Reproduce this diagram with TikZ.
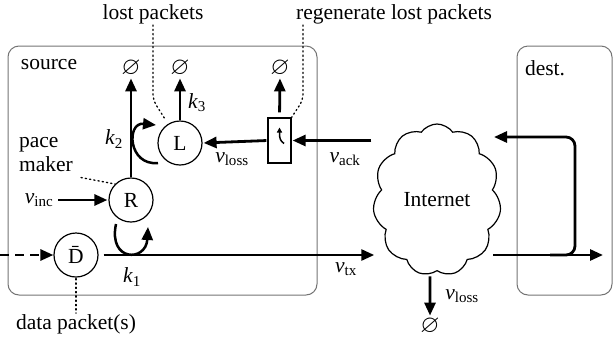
\documentclass[tikz,border=0pt]{standalone}
\usepackage{amssymb}
\usepackage{fontspec}
\setmainfont{Liberation Serif}
\usetikzlibrary{shapes.symbols,arrows.meta}
\newcommand\iv[2]{\textit{#1}\textsubscript{#2}}
\newcommand\nullset{\scalebox{1.15}{$\varnothing$}}
\begin{document}
\begin{tikzpicture}[x=1pt,y=-1pt, font=\fontsize{21.5}{24}\selectfont,
 circ/.style={circle,draw,line width=1.2pt,minimum size=44pt,inner sep=0pt},
 flow/.style={line width=2.8pt,-{Triangle[length=13pt,width=11pt]}},
 plain/.style={line width=2.8pt},
 dots/.style={line width=1.3pt,dash pattern=on 1.3pt off 3pt,line cap=round},
 frame/.style={draw=black!55,line width=1pt,rounded corners=11pt},
 lbl/.style={inner sep=1pt},
 sink/.style={inner sep=1pt}]
\useasboundingbox (0,0) rectangle (613,341);
% frames
\draw[frame] (8,46) rectangle (317,295);
\draw[frame] (517,46) rectangle (612,295);
\node[lbl] (src) at (49,65) {source};
\node[lbl] (dst) at (545,68) {dest.};
% nodes
\node[circ] (D) at (76,255) {\={D}};
\node[circ] (R) at (131,200) {R};
\node[circ] (L) at (180,143) {L};
\node[draw,line width=1.2pt,minimum width=23pt,minimum height=45pt,inner sep=0pt] (G) at (279.5,140.5) {};
\node[cloud,draw,line width=1.2pt,cloud puffs=11,cloud puff arc=110,cloud ignores aspect,minimum width=128pt,minimum height=152pt,inner sep=0pt] (I) at (437,200) {Internet};
% sinks
\node[sink] (E1) at (131,68) {\nullset};
\node[sink] (E2) at (180,68) {\nullset};
\node[sink] (E3) at (280,68) {\nullset};
\node[sink] (E4) at (430,326) {\nullset};
% labels
\node[lbl] (lost) at (153,14) {lost packets};
\node[lbl] (regen) at (394,14) {regenerate lost packets};
\node[lbl,align=left] (pm) at (46,155) {pace\\maker};
\node[lbl] (vinc) at (39,200) {\iv{v}{inc}};
\node[lbl] (data) at (76,324) {data packet(s)};
\node[lbl] (k1) at (132,277) {\iv{k}{1}};
\node[lbl] (k2) at (114,139) {\iv{k}{2}};
\node[lbl] (k3) at (197,103) {\iv{k}{3}};
\node[lbl] (vl1) at (232,159) {\iv{v}{loss}};
\node[lbl] (vack) at (345,159) {\iv{v}{ack}};
\node[lbl] (vtx) at (346,269) {\iv{v}{tx}};
\node[lbl] (vl2) at (462,296) {\iv{v}{loss}};
% coordinates
\coordinate (in) at (0,255);
\coordinate (ie) at (493,255);
\coordinate (out) at (603,255);
\coordinate (fb0) at (550,255);
\coordinate (fb1) at (575,255);
\coordinate (fb2) at (575,137);
\coordinate (fb3) at (494,137);
\coordinate (lostbend) at (153,100);
\coordinate (regenbend) at (303,100);
% connectors
\draw[flow,dashed,dash pattern=on 9pt off 6pt] (in) -- (D.west);
\draw[flow,shorten <=5pt] (D.east) -- (I.west |- D);
\draw[flow] (ie) -- (out);
\draw[plain,rounded corners=9pt,-{Triangle[length=13pt,width=11pt]}] (fb0) -- (fb1) -- (fb2) -- (fb3);
\draw[flow,shorten <=3pt,shorten >=1pt] (I.west |- G.east) -- (G.east);
\draw[flow,shorten <=1pt,shorten >=1pt] (G.west) -- (L.east);
\draw[flow,shorten <=5pt,shorten >=1pt] (G.north) -- (E3.south);
\draw[flow,shorten >=1pt] (L.north) -- (E2.south);
\draw[flow,shorten >=1pt] (R.north) -- (E1.south);
\draw[flow,shorten <=4pt,shorten >=1pt] (vinc.east) -- (R.west);
\draw[flow,shorten <=5pt,shorten >=1pt] ([xshift=-7pt]I.south) -- (E4.north);
% self loops
\draw[flow,line width=2.5pt] ([shift={(-15,24)}]R.center) .. controls ([shift={(-23,62)}]R.center) and ([shift={(15,62)}]R.center) .. ([shift={(17,27)}]R.center);
\draw[flow,line width=2.5pt] ([shift={(-22,20)}]L.center) .. controls ([shift={(-52,23)}]L.center) and ([shift={(-54,-21)}]L.center) .. ([shift={(-24,-18)}]L.center);
% regenerate glyph
\draw[line width=1.5pt,-{Triangle[length=5pt,width=5pt]}] ([shift={(4.5,3)}]G.center) .. controls ([shift={(0.5,0)}]G.center) and ([shift={(0,-2)}]G.center) .. ([shift={(0,-13)}]G.center);
% dotted callouts
\draw[dots,rounded corners=6pt,shorten >=5pt] (lost.south) -- (lostbend) -- (L);
\draw[dots,rounded corners=6pt] (regen.south -| regenbend) -- (regenbend) -- (G.north east);
\draw[dots,shorten <=1pt] ([shift={(6,4)}]pm.east |- pm.south) -- (R.north west);
\draw[dots,shorten <=1pt] (D.south) -- (data.north);
\end{tikzpicture}
\end{document}
